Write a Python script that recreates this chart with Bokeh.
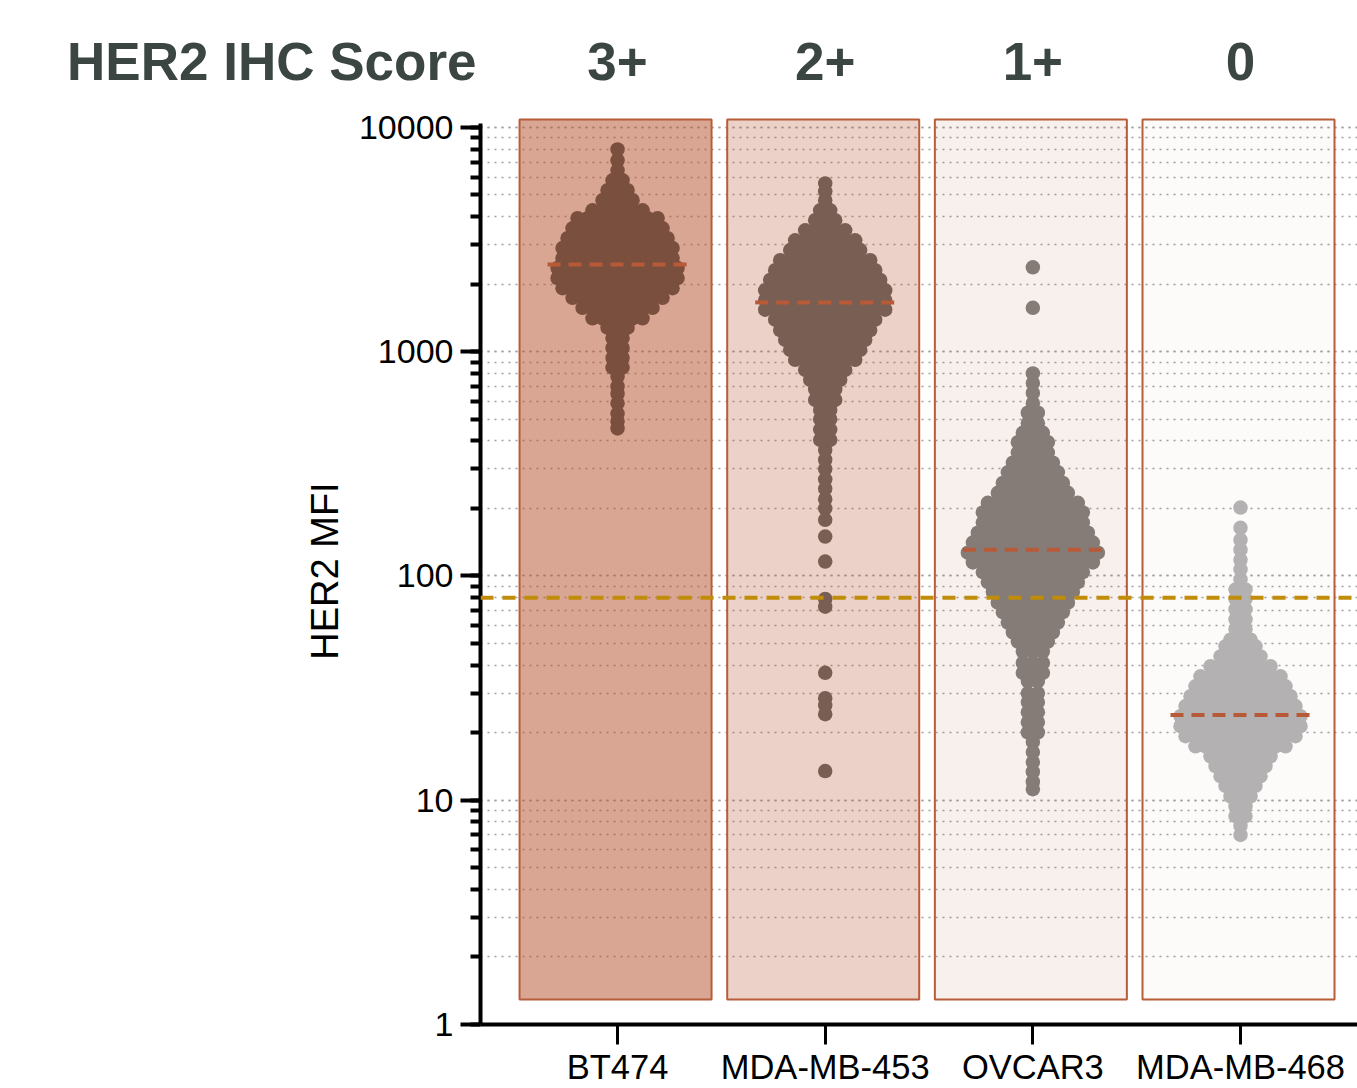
import math
from bokeh.plotting import figure
from bokeh.layouts import column
from bokeh.models import FixedTicker, LogTicker, Span, NumeralTickFormatter
from bokeh.core.properties import value
from bokeh.embed import file_html
from bokeh.resources import INLINE

# ---------------- data ----------------
cell_lines = ["BT474", "MDA-MB-453", "OVCAR3", "MDA-MB-468"]
ihc_scores = ["3+", "2+", "1+", "0"]
header_title = "HER2 IHC Score"
medians = [2450, 1660, 131, 24]
threshold = 80

# beeswarm rows: MFI of each row and number of cells in that row
bt474_mfi = [7980, 7130, 6440, 5810, 5250, 4740, 4270, 3940, 3550, 3210, 2900, 2610,
             2360, 2130, 1920, 1740, 1570, 1410, 1280, 1150, 1040, 940, 850, 775,
             700, 650, 590, 530, 490, 455]
bt474_n = [1, 1, 1, 2, 3, 4, 6, 9, 10, 11, 12, 12,
           13, 13, 12, 10, 8, 6, 3, 2, 2, 2, 2, 1,
           1, 1, 1, 1, 1, 1]

mdamb453_mfi = [5630, 5190, 4740, 4270, 3860, 3480, 3140, 2840, 2560, 2310, 2090, 1880,
                1700, 1540, 1390, 1250, 1130, 1020, 920, 830, 750, 680, 610, 550,
                500, 450, 405, 365, 330, 300, 270, 245, 220, 200, 178, 150,
                116, 79, 73, 37, 28.5, 26.5, 24.2, 13.5]
mdamb453_n = [1, 1, 1, 2, 3, 5, 7, 8, 10, 11, 12, 13,
              13, 13, 11, 10, 9, 8, 7, 5, 4, 3, 3, 2,
              2, 2, 2, 1, 1, 1, 1, 1, 1, 1, 1, 1,
              1, 1, 1, 1, 1, 1, 1, 1]

ovcar3_mfi = [2380, 1570, 800, 725, 655, 590, 535, 480, 435, 395, 355, 320,
              290, 260, 235, 212, 192, 173, 156, 141, 127, 115, 104, 94,
              85, 76, 69, 62, 56, 51, 46, 41, 37, 34, 30, 27.4,
              24.7, 22.3, 20.1, 18.2, 16.4, 14.8, 13.4, 12.1, 11.2]
ovcar3_n = [1, 1, 1, 1, 1, 1, 2, 2, 3, 4, 4, 5,
            6, 7, 8, 10, 11, 11, 12, 13, 14, 13, 11, 10,
            9, 8, 7, 6, 5, 4, 3, 3, 3, 2, 2, 2,
            2, 2, 2, 1, 1, 1, 1, 1, 1]

mdamb468_mfi = [202, 164, 145, 131, 118, 107, 96.5, 87, 79, 71, 64, 58,
                52, 48.6, 43.8, 39.6, 35.7, 32.2, 29.1, 26.3, 23.7, 21.4, 19.3, 17.4,
                15.7, 14.2, 12.8, 11.6, 10.4, 9.4, 8.5, 7.7, 7.0]
mdamb468_n = [1, 1, 1, 1, 1, 1, 1, 2, 2, 2, 2, 2,
              3, 4, 5, 7, 9, 10, 11, 12, 13, 13, 12, 10,
              7, 6, 5, 4, 3, 2, 2, 1, 1]

swarm_mfi = [bt474_mfi, mdamb453_mfi, ovcar3_mfi, mdamb468_mfi]
swarm_n = [bt474_n, mdamb453_n, ovcar3_n, mdamb468_n]

# ---------------- styles ----------------
dot_colors = ["#7a4f3d", "#795f53", "#857c78", "#b3b1b1"]
panel_alpha = [0.52, 0.27, 0.09, 0.025]
panel_color = "#b5552f"
border_color = "#b85c3a"
median_color = "#b85a38"
threshold_color = "#c18c07"
header_color = "#3b4643"
FONT = "Liberation Sans"

W, H = 1357, 1088
HEADER_H = 100
HEADER_TOP = 22
FL, FR, FT, FB = 480, 1357, 117, 1026
x_start, x_end = -0.66, 3.5634
y_start, y_end = 1, 11080
px_per_unit = (FR - FL) / (x_end - x_start)


def sy_to_y(sy):
    frac = (FB - sy) / (FB - FT)
    return 10 ** (math.log10(y_start) + frac * (math.log10(y_end) - math.log10(y_start)))


# ---------------- main plot ----------------
p = figure(width=W, height=H - HEADER_H, output_backend="svg", toolbar_location=None,
           y_axis_type="log", x_range=(x_start, x_end), y_range=(y_start, y_end),
           min_border_left=FL, min_border_right=W - FR, min_border_top=FT - HEADER_H,
           min_border_bottom=H - FB, background_fill_color="white",
           border_fill_color="white")
p.outline_line_color = None

# ---------------- header strip (shares the x scale) ----------------
hdr = figure(width=W, height=HEADER_H, output_backend="svg", toolbar_location=None,
             x_range=p.x_range, y_range=(HEADER_H, HEADER_TOP),
             x_axis_location=None,
             min_border_left=FL, min_border_right=W - FR, min_border_top=HEADER_TOP,
             min_border_bottom=0, background_fill_color="white",
             border_fill_color="white")
hdr.outline_line_color = None
hdr.grid.visible = False
hya = hdr.yaxis[0]
hya.ticker = FixedTicker(ticks=[])
hya.axis_line_color = None
hya.major_tick_line_color = None
hya.minor_tick_line_color = None
hya.major_tick_out = 0
hya.minor_tick_out = 0
hya.major_label_standoff = 0
hya.axis_label = header_title
hya.axis_label_orientation = "horizontal"
hya.axis_label_standoff = 4
hya.axis_label_text_font = FONT
hya.axis_label_text_font_size = "53px"
hya.axis_label_text_font_style = "bold"
hya.axis_label_text_color = header_color
mid_y = (HEADER_H + HEADER_TOP) / 2
hdr.text(x=list(range(len(ihc_scores))), y=[mid_y] * len(ihc_scores), text=ihc_scores,
         text_align="center", text_baseline="middle",
         text_font=value(FONT), text_font_size="53px", text_font_style="bold",
         text_color=header_color)

# grid (dotted, at majors and minors)
p.xgrid.grid_line_color = None
p.ygrid.grid_line_color = "#a0a0a0"
p.ygrid.grid_line_dash = "2 5"
p.ygrid.grid_line_width = 1.5
p.ygrid.minor_grid_line_color = "#a0a0a0"
p.ygrid.minor_grid_line_dash = "2 5"
p.ygrid.minor_grid_line_width = 1.5

# y axis
ya = p.yaxis[0]
ya.ticker = LogTicker(num_minor_ticks=10)
ya.formatter = NumeralTickFormatter(format="0")
ya.bounds = (1, 10400)
ya.axis_line_width = 4
ya.axis_line_color = "black"
ya.major_tick_line_width = 4
ya.minor_tick_line_width = 4
ya.major_tick_out = 20
ya.major_tick_in = 0
ya.minor_tick_out = 10
ya.minor_tick_in = 0
ya.major_label_text_font = FONT
ya.major_label_text_font_size = "34px"
ya.major_label_text_color = "black"
ya.major_label_standoff = 7
ya.axis_label = "HER2 MFI"
ya.axis_label_text_font = FONT
ya.axis_label_text_font_size = "38px"
ya.axis_label_text_font_style = "normal"
ya.axis_label_text_color = "black"
ya.axis_label_standoff = 10

# x axis
xa = p.xaxis[0]
xa.ticker = FixedTicker(ticks=list(range(len(cell_lines))))
xa.major_label_overrides = {i: c for i, c in enumerate(cell_lines)}
xa.axis_line_width = 4
xa.axis_line_color = "black"
xa.major_tick_line_width = 3
xa.major_tick_out = 20
xa.major_tick_in = 0
xa.minor_tick_line_color = None
xa.major_label_text_font = FONT
xa.major_label_text_font_size = "34.5px"
xa.major_label_text_color = "black"
xa.major_label_standoff = 3

# panels
half_w = 96 / px_per_unit
shift = -2 / px_per_unit
idx = list(range(len(cell_lines)))
p.quad(left=[i + shift - half_w for i in idx], right=[i + shift + half_w for i in idx],
       bottom=sy_to_y(1001), top=sy_to_y(119),
       fill_color=panel_color, fill_alpha=panel_alpha,
       line_color=border_color, line_width=2)

# swarms
SPACING = 10.0
for i, (mfis, ns, col) in enumerate(zip(swarm_mfi, swarm_n, dot_colors)):
    xs, ys = [], []
    for v, n in zip(mfis, ns):
        for k in range(n):
            xs.append(i + (k - (n - 1) / 2) * SPACING / px_per_unit)
            ys.append(v)
    p.scatter(xs, ys, size=14.5, marker="circle", fill_color=col, line_color=None)

# medians
med_half = 70 / px_per_unit
p.segment(x0=[i - med_half for i in idx], x1=[i + med_half for i in idx],
          y0=medians, y1=medians, line_color=median_color, line_width=4,
          line_dash="13 8")

# threshold
p.add_layout(Span(location=threshold, dimension="width", line_color=threshold_color,
                  line_width=4, line_dash="13 9"))

layout = column(hdr, p, spacing=0)
open("out.html", "w").write(file_html(layout, INLINE))
